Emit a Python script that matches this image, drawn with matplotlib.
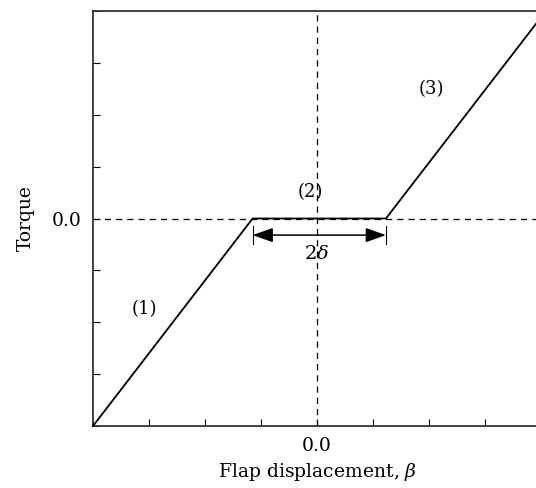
import matplotlib
matplotlib.use('Agg')
from matplotlib import pyplot as plt

# Piecewise-linear torque vs. flap displacement (freeplay of width 2*delta)
beta = [-4.0, -1.15, 1.23, 4.0]
torque = [-4.0, 0.0, 0.0, 3.88]

x_ticks = [-4, -3, -2, -1, 0, 1, 2, 3, 4]
y_ticks = [-4, -3, -2, -1, 0, 1, 2, 3, 4]
x_ticklabels = ['', '', '', '', '0.0', '', '', '', '']
y_ticklabels = ['', '', '', '', '0.0', '', '', '', '']

region_labels = ['(1)', '(2)', '(3)']
region_pos = [(-3.09, -1.75), (-0.12, 0.5), (2.05, 2.5)]
gap_y = -0.32

plt.rcParams['font.family'] = 'DejaVu Serif'
plt.rcParams['mathtext.fontset'] = 'dejavuserif'

fig = plt.figure(figsize=(5.36, 4.88), dpi=100)
ax = fig.add_axes([0.1735, 0.127, 0.836, 0.8505])

ax.set_xlim(-4, 4)
ax.set_ylim(-4, 4)

# dashed reference axes through the origin
ax.axhline(0, color='black', lw=0.9, ls=(0, (5, 4)), zorder=1)
ax.axvline(0, color='black', lw=0.9, ls=(0, (5, 4)), zorder=1)

ax.plot(beta, torque, color='black', lw=1.3, zorder=3, clip_on=False)

# 2 delta dimension arrow
x1, x2 = beta[1], beta[2]
ax.annotate('', xy=(x1, gap_y), xytext=(x2, gap_y),
            arrowprops=dict(arrowstyle='<|-|>,head_length=0.62,head_width=0.22',
                            color='black', lw=1.1, mutation_scale=20,
                            shrinkA=0, shrinkB=0))
for xe in (x1, x2):
    ax.plot([xe, xe], [gap_y - 0.17, gap_y + 0.17], color='black', lw=0.8)
ax.text((x1 + x2) / 2 - 0.05, gap_y - 0.36, r'$2\delta$', ha='center', va='center',
        fontsize=14)

for lab, (px, py) in zip(region_labels, region_pos):
    ax.text(px, py, lab, ha='center', va='center', fontsize=13)

ax.set_xticks(x_ticks)
ax.set_xticklabels(x_ticklabels, fontsize=13.5)
ax.set_yticks(y_ticks)
ax.set_yticklabels(y_ticklabels, fontsize=13.5)
ax.tick_params(direction='in', length=5, width=0.8, pad=8)

for side in ('left', 'bottom', 'top'):
    ax.spines[side].set_linewidth(1.3)
    ax.spines[side].set_color('#333333')
ax.spines['right'].set_visible(False)

ax.set_xlabel(r'Flap displacement, $\beta$', fontsize=13.5, labelpad=4)
ax.set_ylabel('Torque', fontsize=13.5, labelpad=12)

fig.savefig('out.png', dpi=100)
